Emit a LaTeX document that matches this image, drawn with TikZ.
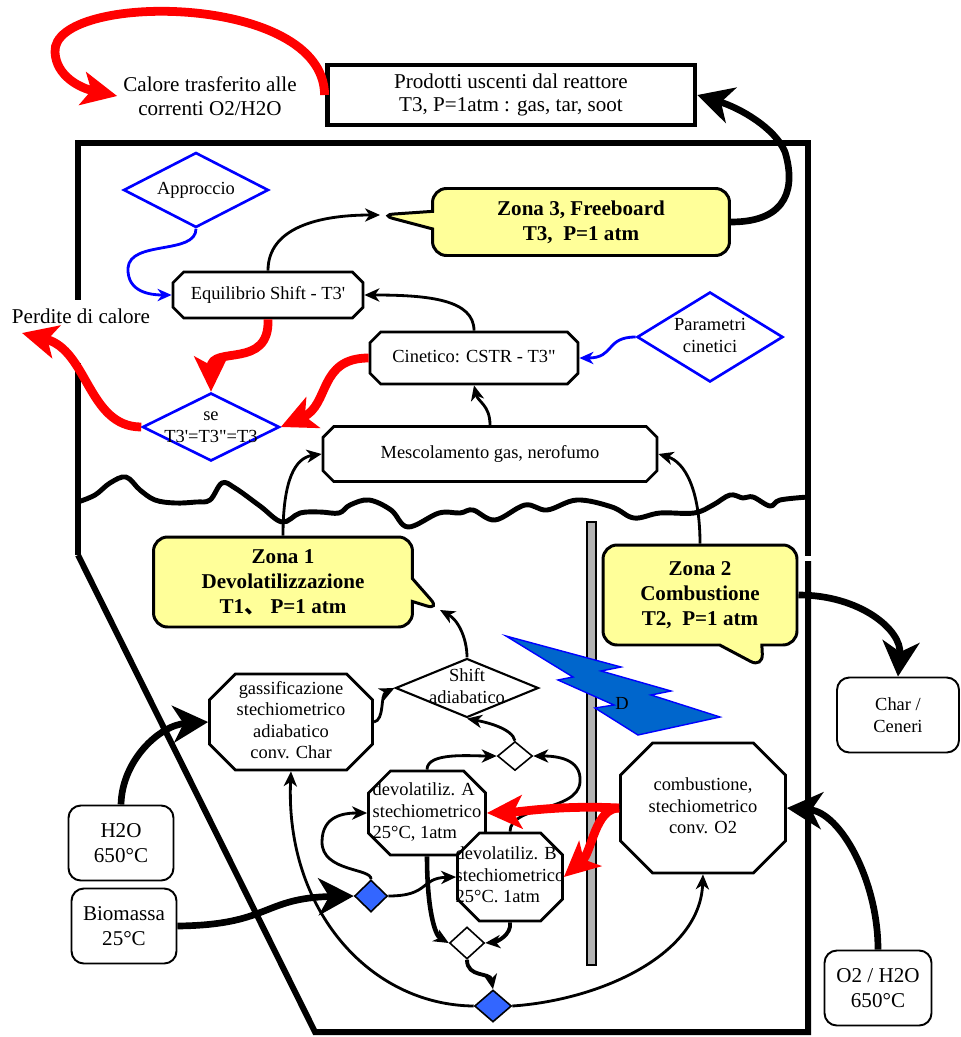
\documentclass[tikz,border=0pt]{standalone}
\usepackage{fontspec}
\setmainfont{Liberation Serif}
\newfontfamily\cjk{Noto Sans CJK SC}
\usetikzlibrary{arrows.meta,shapes.geometric,shapes.misc,shapes.callouts}

\definecolor{zonefill}{HTML}{FFFF99}
\definecolor{boltblue}{HTML}{0066CC}
\definecolor{feedblue}{HTML}{3366FF}
\definecolor{bargray}{HTML}{B2B2B2}

\newcommand\bigfont{\fontsize{12}{13.6}\selectfont}
\newcommand\smallfont{\fontsize{10.5}{12.2}\selectfont}
\newcommand\zonefont{\fontsize{12}{14.2}\selectfont\bfseries}
\newcommand\ctext[1]{\makebox[0pt]{\begin{tabular}{@{}c@{}}#1\end{tabular}}}
\newcommand\ltext[1]{\makebox[0pt]{\begin{tabular}{@{}l@{}}#1\end{tabular}}}
\newcommand\sq{\textquotesingle}
\newcommand\dq{\textquotedbl}

\begin{document}
\begin{tikzpicture}[x=0.02cm,y=-0.02cm,font=\bigfont,
  flow/.style={-{Stealth[length=8.5pt,width=7.5pt,inset=2.5pt]},line width=1.6pt},
  feed/.style={-{Stealth[length=20pt,width=21pt,inset=6pt]},line width=3.8pt},
  heat/.style={-{Stealth[length=20pt,width=19pt,inset=5pt]},line width=5pt,red},
  ctrl/.style={-{Stealth[length=8pt,width=7pt,inset=2.5pt]},line width=1.6pt,blue},
  octo/.style={chamfered rectangle,draw,line width=1.6pt,fill=white,inner sep=0pt,font=\smallfont},
  check/.style={diamond,draw,line width=1.5pt,fill=white,inner sep=0pt,font=\smallfont},
  mixer/.style={diamond,draw,line width=0.9pt,fill=white,inner sep=0pt},
  zone/.style={rectangle callout,draw,line width=1.7pt,fill=zonefill,rounded corners=8pt,font=\zonefont,align=center},
  stream/.style={draw,line width=1.1pt,rounded corners=7pt,align=center,minimum width=2.1cm,minimum height=1.5cm}]
\useasboundingbox (0,0) rectangle (960,1037);

% reactor walls and bed surface
\draw[line width=3.4pt] (78,555) -- (78,143) -- (808,143) -- (808,556);
\draw[line width=3.4pt] (808,561) -- (808,1032) -- (315,1032) -- (78,555);
\draw[line width=2.8pt,line join=round] plot[smooth,tension=.6] coordinates {(78,502) (95,495) (110,483) (126,477) (140,490) (155,500) (175,503) (196,502) (210,500) (222,483) (235,488) (260,506) (282,522) (300,513) (320,512) (339,513) (350,505) (369,500) (391,510) (408,527) (439,513) (460,513) (473,510) (495,520) (525,505) (547,510) (577,500) (612,507) (634,518) (660,513) (694,513) (713,505) (730,495) (743,498) (753,497) (770,506) (780,500) (808,497)};
\draw[fill=bargray,line width=0.6pt] (587,522) rectangle (596,965);
\draw[fill=boltblue,draw=blue,line width=0.8pt] (506,636) -- (621,667) -- (601,671) -- (671,691) -- (651,695) -- (720,717) -- (638,735) -- (595,708) -- (614,705) -- (558,680) -- (573,677) -- cycle;
\node[font=\smallfont] (dlab) at (622,703) {D};

% texts and boxes
\node[align=center] (calore) at (210,96) {Calore trasferito alle\\correnti O2/H2O};
\node[draw,line width=2.8pt,minimum width=7.36cm,minimum height=1.2cm,inner sep=0pt,align=center] (prod) at (511,95) {Prodotti uscenti dal reattore\\T3, P=1atm : gas, tar, soot};
\node[anchor=base,fill=white,inner sep=1pt,text height=12pt,text depth=22pt] (perdite) at (81,323) {Perdite di calore};

\coordinate (z3tip) at (380,215);
\coordinate (z1tip) at (440,610);
\coordinate (z2tip) at (763,668);
\coordinate (lossend) at (22,333);

\node[zone,minimum width=5.94cm,minimum height=1.34cm,callout absolute pointer={(z3tip)},callout pointer width=10pt] (zona3) at (581,222) {Zona 3, Freeboard\\T3,~~P=1 atm};
\node[zone,minimum width=5.18cm,minimum height=1.8cm,callout absolute pointer={(z1tip)},callout pointer width=13pt] (zona1) at (283,582) {Zona 1\\Devolatilizzazione\\T1{\cjk 、}~P=1 atm};
\node[zone,minimum width=3.88cm,minimum height=2cm,callout absolute pointer={(z2tip)},callout pointer width=24pt] (zona2) at (700,595) {Zona 2\\Combustione\\T2,~~P=1 atm};

\node[check,draw=blue,minimum width=2.9cm,minimum height=1.5cm] (appr) at (196,190) {\ctext{Approccio}};
\node[octo,minimum width=3.8cm,minimum height=0.92cm,chamfered rectangle xsep=7.4pt] (equil) at (268,295) {\ctext{Equilibrio Shift - T3\sq}};
\node[octo,minimum width=4.16cm,minimum height=1.04cm,chamfered rectangle xsep=7.4pt] (cinet) at (474,358) {\ctext{Cinetico: CSTR - T3\dq}};
\node[check,draw=blue,minimum width=2.92cm,minimum height=1.8cm] (param) at (710,337) {\ctext{Parametri\\cinetici}};
\node[check,draw=blue,minimum width=2.74cm,minimum height=1.36cm] (se) at (211,427) {\ctext{se\\T3\sq=T3\dq=T3}};
\node[octo,minimum width=6.68cm,minimum height=1.1cm,chamfered rectangle xsep=9.6pt] (mesc) at (490,454) {\ctext{Mescolamento gas, nerofumo}};

\node[check,line width=1.2pt,minimum width=2.86cm,minimum height=1.18cm] (shift) at (467,688) {\ctext{Shift\\adiabatico}};
\node[octo,minimum width=3.26cm,minimum height=1.92cm,chamfered rectangle xsep=14.7pt] (gass) at (291,722) {\ctext{gassificazione\\stechiometrico\\adiabatico\\conv. Char}};
\node[mixer,minimum width=0.7cm,minimum height=0.58cm] (mixA) at (515,756) {};
\node[octo,minimum width=2.34cm,minimum height=1.68cm,chamfered rectangle xsep=12.5pt] (devA) at (427,813) {\ltext{devolatiliz. A\\stechiometrico\\25°C, 1atm}};
\node[octo,minimum width=2.1cm,minimum height=1.76cm,chamfered rectangle xsep=12.5pt] (devB) at (510,877) {\ltext{devolatiliz. B\\stechiometrico\\25°C. 1atm}};
\node[octo,minimum width=3.3cm,minimum height=2.6cm,chamfered rectangle xsep=22.7pt] (comb) at (703,808) {\ctext{combustione,\\stechiometrico\\conv. O2}};
\node[mixer,fill=feedblue,minimum width=0.66cm,minimum height=0.64cm] (feed1) at (371,896) {};
\node[mixer,minimum width=0.7cm,minimum height=0.64cm] (mixB) at (467,943) {};
\node[mixer,fill=feedblue,minimum width=0.74cm,minimum height=0.64cm] (feed2) at (493,1006) {};

\node[stream,font=\smallfont,minimum width=2.44cm] (char) at (898,715) {Char /\\Ceneri};
\node[stream,font=\fontsize{12}{14.5}\selectfont,minimum width=2.14cm] (o2) at (878,988) {O2 / H2O\\650°C};
\node[stream,font=\fontsize{12}{14}\selectfont] (h2o) at (121,843) {H2O\\650°C};
\node[stream,font=\fontsize{12}{14}\selectfont] (bio) at (124,926) {Biomassa\\25°C};

% connectors
\draw[heat] (prod.west) .. controls (324,-8) and (52,-8) .. (55,52) .. controls (56,76) and (80,88) .. (calore.west);
\draw[feed] (zona3.east) .. controls (790,222) and (795,185) .. (785,152) .. controls (775,128) and (740,108) .. (prod.east);
\draw[flow] (equil.north) .. controls (268,228) and (318,215) .. (z3tip);
\draw[ctrl] (appr.south) .. controls (196,255) and (130,240) .. (128,268) .. controls (127,292) and (150,295) .. (equil.west);
\draw[flow] (cinet.north) .. controls (474,300) and (430,295) .. (equil.east);
\draw[ctrl] (param.west) .. controls (605,337) and (615,358) .. (cinet.east);
\draw[heat] (equil.south) .. controls (270,370) and (211,345) .. (se.north);
\draw[heat] (cinet.west) .. controls (318,358) and (330,405) .. (se.east);
\draw[heat] (se.west) .. controls (88,427) and (88,350) .. (lossend);
\draw[flow] (mesc.north) .. controls (490,405) and (478,402) .. (cinet.south);
\draw[flow] (zona1.north) .. controls (283,480) and (295,458) .. (mesc.west);
\draw[flow] (zona2.north) .. controls (700,490) and (685,462) .. (mesc.east);
\draw[flow] (shift.north) .. controls (467,638) and (458,620) .. (z1tip);
\draw[flow] (gass.east) .. controls (385,720) and (380,695) .. (shift.west);
\draw[flow] (mixA.north) .. controls (512,728) and (485,722) .. (shift.south);
\draw[flow] (devA.north) .. controls (427,752) and (470,756) .. (mixA.west);
\draw[flow] (devB.north) .. controls (510,805) and (578,812) .. (580,782) .. controls (582,758) and (555,756) .. (mixA.east);
\draw[heat] (comb.west) .. controls (560,805) and (520,812) .. (devA.east);
\draw[heat] (comb.west) .. controls (595,808) and (592,852) .. (devB.east);
\draw[feed] (bio.east) .. controls (270,925) and (262,898) .. (feed1.west);
\draw[flow] (feed1.north) .. controls (372,868) and (322,872) .. (322,842) .. controls (322,815) and (345,813) .. (devA.west);
\draw[flow] (feed1.east) .. controls (430,896) and (420,878) .. (devB.west);
\draw[flow,line width=2.6pt] (devA.south) .. controls (427,910) and (435,935) .. (mixB.west);
\draw[flow,line width=2.2pt] (devB.south) .. controls (512,935) and (496,942) .. (mixB.east);
\draw[flow,line width=2.2pt] (mixB.south) .. controls (467,978) and (490,972) .. (feed2.north);
\draw[flow] (feed2.west) .. controls (370,1005) and (285,910) .. (gass.south);
\draw[flow] (feed2.east) .. controls (600,1000) and (700,955) .. (comb.south);
\draw[feed] (zona2.east) .. controls (860,595) and (902,630) .. (char.north);
\draw[feed] (o2.north) .. controls (878,880) and (840,812) .. (comb.east);
\draw[feed] (h2o.north) .. controls (122,760) and (160,725) .. (gass.west);
\end{tikzpicture}
\end{document}
